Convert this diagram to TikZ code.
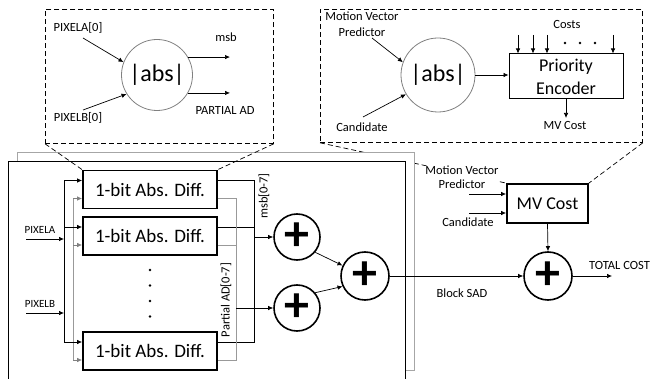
\documentclass[tikz,border=0pt]{standalone}
\usepackage{fontspec}
\setmainfont{Carlito}
\usetikzlibrary{arrows.meta}
\begin{document}
\begin{tikzpicture}[x=1pt,y=-1pt,
  arr/.style={-{Latex[length=5pt,width=4.5pt]}, line width=0.7pt},
  lbl/.style={inner sep=0pt, font=\fontsize{12.5}{15}\selectfont},
  zbox/.style={draw, dash pattern=on 5pt off 3pt, line width=0.8pt, anchor=north west, inner sep=0pt},
  zline/.style={dash pattern=on 5pt off 3pt, line width=0.7pt},
  abscirc/.style={circle, draw=gray, line width=0.8pt, minimum size=71pt, inner sep=0pt, font=\fontsize{24}{28}\selectfont},
  bitbox/.style={draw, line width=1.8pt, minimum width=134pt, minimum height=38pt, inner sep=0pt, font=\fontsize{19}{22}\selectfont},
  pluscirc/.style={circle, draw, line width=1.6pt, minimum size=46pt, inner sep=0pt, font=\fontsize{50}{50}\selectfont\bfseries},
  graybus/.style={draw=gray!80, line width=0.8pt},
  bus/.style={draw, line width=0.8pt},
  dotc/.style={circle, fill, inner sep=0pt, minimum size=2.6pt}]
\useasboundingbox (0,0) rectangle (650,379);

% ---------- zoom boxes ----------
\node[zbox, minimum width=228pt, minimum height=134pt] (zl) at (45,9) {};
\node[zbox, minimum width=322pt, minimum height=133pt] (zr) at (320,9) {};

% left zoom contents
\node[abscirc] (abs1) at (157,75) {|abs|};
\node[lbl] (pa0) at (78,28) {PIXELA[0]};
\node[lbl] (pb0) at (78,118) {PIXELB[0]};
\coordinate (pa0s) at (83,38);
\coordinate (pb0s) at (83,110);
\draw[arr] (pa0s) -- (abs1.159);
\draw[arr] (pb0s) -- (abs1.212);
\coordinate (msbe) at (230,57);
\coordinate (pade) at (230,93);
\draw[arr] (abs1.30) -- (abs1.30 -| msbe);
\draw[arr] (abs1.-30) -- (abs1.-30 -| pade);
\node[lbl] (msbl) at (226,37) {msb};
\node[lbl] (padl) at (225,110) {PARTIAL AD};

% right zoom contents
\node[abscirc, minimum size=74pt] (abs2) at (438,75) {|abs|};
\node[lbl, align=center, font=\fontsize{12.5}{16}\selectfont] (mvp) at (362,24) {Motion Vector\\Predictor};
\coordinate (mvps) at (372,38);
\draw[arr] (mvps) -- (abs2.160);
\node[lbl] (cand2) at (362,127) {Candidate};
\coordinate (cand2s) at (363,117);
\draw[arr] (cand2s) -- (abs2.211);
\node[draw, line width=1pt, minimum width=114pt, minimum height=45pt, inner sep=0pt, align=center, font=\fontsize{18}{23}\selectfont] (pe) at (566,76.5) {Priority\\Encoder};
\draw[arr] (abs2.east) -- (abs2.east -| pe.west);
\node[lbl] (costs) at (567,24) {Costs};
\foreach \x in {518,533,547,613} {
  \coordinate (c\x) at (\x,35);
  \draw[arr] (c\x) -- (c\x |- pe.north);
}
\node[dotc] (d1) at (565,43) {};
\node[dotc] (d2) at (580,43) {};
\node[dotc] (d3) at (595,43) {};
\coordinate (mvce) at (566,118);
\draw[arr] (pe.south) -- (mvce);
\node[lbl] (mvcl) at (565,125) {MV Cost};

% ---------- MV cost box and hidden zoom line ----------
\node[draw, line width=1.8pt, minimum width=81pt, minimum height=39pt, inner sep=0pt, font=\fontsize{18}{20}\selectfont] (mvc) at (547.5,203.5) {MV Cost};
\draw[zline] (zr.south west) -- (mvc.north west);
\draw[zline] (zr.south east) -- (mvc.north east);

% ---------- stacked frames ----------
\node[draw=gray!70, line width=1.3pt, fill=white, minimum width=397pt, minimum height=218pt, anchor=north west, inner sep=0pt] (back) at (17,152) {};
\node[draw, line width=0.8pt, fill=white, minimum width=397pt, minimum height=240pt, anchor=north west, inner sep=0pt] (front) at (8,161) {};

\node[lbl, align=center, fill=white, font=\fontsize{12.5}{14}\selectfont] (mvp2) at (462,177) {Motion Vector\\Predictor};
\node[lbl] (cand) at (468,222) {Candidate};
\coordinate (mvpin) at (469,194);
\coordinate (candin) at (469,213);
\draw[arr] (mvpin) -- (mvpin -| mvc.west);
\draw[arr] (candin) -- (candin -| mvc.west);

% ---------- 1-bit blocks ----------
\node[bitbox] (b1) at (150,189.5) {1-bit Abs. Diff.};
\node[bitbox] (b2) at (150,236) {1-bit Abs. Diff.};
\node[bitbox] (b3) at (150,351) {1-bit Abs. Diff.};
\draw[zline] (zl.south west) -- (b1.north west);
\draw[zline] (zl.south east) -- (b1.north east);

\foreach \b in {b1,b2,b3} {
  \coordinate (\b a) at ([yshift=9pt]\b.west);
  \coordinate (\b b) at ([yshift=-9pt]\b.west);
  \coordinate (\b c) at ([yshift=9pt]\b.east);
  \coordinate (\b d) at ([yshift=-9pt]\b.east);
}
\coordinate (busA) at (64,0);
\coordinate (busB) at (73,0);
\coordinate (busM) at (254,0);
\coordinate (busP) at (236,0);

% input buses
\draw[bus] (b1a -| busA) -- (b3a -| busA);
\draw[graybus] (b1b -| busB) -- (b3b -| busB);
\foreach \b in {b1,b2,b3} {
  \draw[arr] (\b a -| busA) -- (\b a);
  \draw[arr, gray] (\b b -| busB) -- (\b b);
}
\node[lbl, font=\fontsize{11}{12}\selectfont] (pa) at (40,230) {PIXELA};
\node[lbl, font=\fontsize{11}{12}\selectfont] (pb) at (40,304) {PIXELB};
\coordinate (pas) at (26,239);
\coordinate (pbs) at (26,313);
\draw[arr] (pas) -- (pas -| busA);
\draw[arr] (pbs) -- (pbs -| busA);

% output buses
\draw[bus] (b1c) -- (b1c -| busM) -- (b3c -| busM) -- (b3c);
\draw[bus] (b2c) -- (b2c -| busM);
\draw[graybus] (b1d) -- (b1d -| busP) -- (b3d -| busP) -- (b3d);
\draw[graybus] (b2d) -- (b2d -| busP);

\node[lbl, rotate=90] (msbr) at (264,196) {msb[0-7]};
\node[lbl, rotate=90] (padr) at (226,300) {Partial AD[0-7]};

% vertical dots
\node[dotc] (v1) at (150,270) {};
\node[dotc] (v2) at (150,285.5) {};
\node[dotc] (v3) at (150,301) {};
\node[dotc] (v4) at (150,316.5) {};

% adders
\node[pluscirc] (p1) at (297,237) {+};
\node[pluscirc] (p2) at (297,308) {+};
\node[pluscirc, minimum size=48pt] (p3) at (365,276) {+};
\node[pluscirc, minimum size=48pt] (p4) at (548,276) {+};
\draw[arr] (p1.west -| busM) -- (p1.west);
\draw[arr] (p2.west -| busP) -- (p2.west);
\draw[arr] (p1.-40) -- (p3.155);
\draw[arr] (p2.40) -- (p3.205);
\draw[arr] (p3.east) -- (p4.west);
\node[lbl] (bsad) at (462,293) {Block SAD};
\draw[arr] (mvc.south) -- (p4.north);
\coordinate (tce) at (612,276);
\draw[arr] (p4.east) -- (tce);
\node[lbl, anchor=west] (tc) at (589,265) {TOTAL COST};
\end{tikzpicture}
\end{document}
